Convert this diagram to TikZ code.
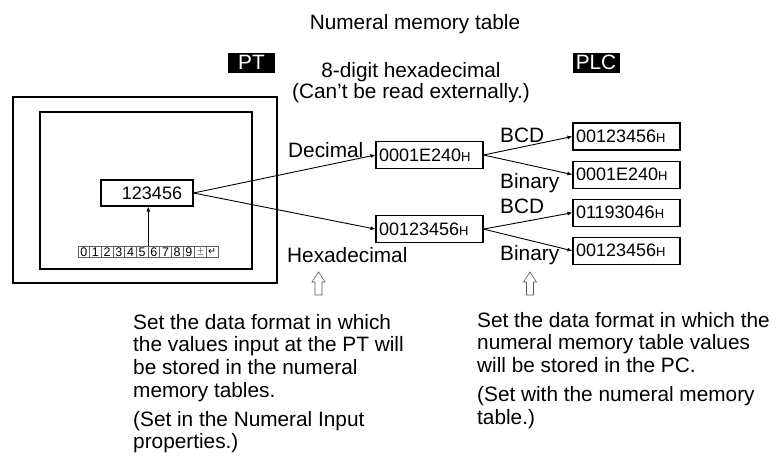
\documentclass[tikz,border=0pt]{standalone}
\usepackage{fontspec}
\setmainfont{Liberation Sans}
\newfontfamily\symfont{DejaVu Sans}
\usetikzlibrary{positioning,arrows.meta}

\newcommand{\hsuf}{{\fontsize{13}{13}\selectfont H}}

\begin{document}
\begin{tikzpicture}[
x=1pt, y=-1pt,
every node/.style={font=\fontsize{20.8}{22.7}\selectfont},
tag/.style={
fill=black,
text=white,
inner sep=0pt,
minimum width=47pt,
minimum height=20pt
},
valbox/.style={
draw,
line width=1.1pt,
inner sep=3pt,
text width=101pt,
align=left,
minimum height=27pt,
font=\fontsize{18}{20}\selectfont
},
numkey/.style={
draw=gray!75!black,
line width=0.6pt,
inner sep=0pt,
minimum width=11.67pt,
minimum height=10.5pt,
font=\fontsize{12.5}{12.5}\selectfont
},
fmt/.style={
anchor=base west,
inner sep=0pt
},
note/.style={
anchor=north west,
align=left,
inner sep=0pt
},
arrow/.style={
-{Latex[length=5pt,width=4pt]},
line width=0.9pt
},
hollowup/.style={
draw=gray!70!black,
line width=0.6pt,
fill=white
}
]

\useasboundingbox (0,0) rectangle (780,466);

% Title and headings

\node (title) [anchor=base] at (415,29) {Numeral memory table};

\node (pt) [tag] at (251.5,62.5) {PT};
\node (plc) [tag] at (596,62.5) {PLC};

\node (internal) [anchor=north, align=center, inner sep=0pt] at (411,62)
{8-digit hexadecimal\\[-1pt](Can’t be read externally.)};


% PT screen

\node (ptframe) [draw, line width=1.2pt, minimum width=264pt, minimum height=186pt, inner sep=0pt] at (145,190) {};
\node (ptscreen) [draw, line width=1.2pt, minimum width=212pt, minimum height=157pt, inner sep=0pt] at (146,190.5) {};

\node (numbox) [draw, line width=1.1pt, minimum width=92pt, minimum height=26pt, inner sep=0pt,
font=\fontsize{18}{20}\selectfont] at (147,193) {\hspace{10pt}123456};

\foreach \k in {0,...,9}
  \node (key\k) [numkey] at ({83.8+\k*11.67},252) {\k};
\node (key10) [numkey, text=gray] at ({83.8+10*11.67},252) {±};
\node (key11) [numkey] at ({83.8+11*11.67},252) {\symfont\fontsize{9.5}{9.5}\selectfont ↵};

\draw[arrow] (key5.north east) -- (key5.north east |- numbox.south);


% Numeral memory table

\node (dec) [valbox] at (429.5,155) {0001E240\hsuf};
\node (hex) [valbox, below=46pt of dec] {00123456\hsuf};

\node (decimal) [fmt] at (288,157) {Decimal};
\node (hexa) [fmt] at (287,262) {Hexadecimal};

\draw[arrow] (numbox.east) -- (dec.west);
\draw[arrow] (numbox.east) -- (hex.west);


% PLC side

\node (bcdA) [valbox] at (626.5,136.5) {00123456\hsuf};
\node (binA) [valbox, below=10pt of bcdA] {0001E240\hsuf};
\node (bcdB) [valbox, below=10pt of binA] {01193046\hsuf};
\node (binB) [valbox, below=10pt of bcdB] {00123456\hsuf};

\node (bcd1) [fmt] at (500,142) {BCD};
\node (bin1) [fmt] at (500,188) {Binary};
\node (bcd2) [fmt] at (500,213) {BCD};
\node (bin2) [fmt] at (500,260) {Binary};

\draw[arrow] (dec.east) -- (bcdA.west);
\draw[arrow] (dec.east) -- (binA.west);
\draw[arrow] (hex.east) -- (bcdB.west);
\draw[arrow] (hex.east) -- (binB.west);


% Notes

\coordinate (ptmark) at (318.5,295);
\coordinate (plcmark) at (530,295);

\draw[hollowup] (ptmark) ++(-3.5,0) -- ++(0,-13) -- ++(-3,0) -- ++(6.5,-10)
  -- ++(6.5,10) -- ++(-3,0) -- ++(0,13) -- cycle;
\draw[hollowup] (plcmark) ++(-3.5,0) -- ++(0,-13) -- ++(-3,0) -- ++(6.5,-10)
  -- ++(6.5,10) -- ++(-3,0) -- ++(0,13) -- cycle;

\node (ptnote) [note] at (133,314)
{Set the data format in which\\
the values input at the PT will\\
be stored in the numeral\\
memory tables.\\[6pt]
(Set in the Numeral Input\\
properties.)};

\node (plcnote) [note] at (477,312)
{Set the data format in which the\\
numeral memory table values\\
will be stored in the PC.\\[6pt]
(Set with the numeral memory\\
table.)};

\end{tikzpicture}
\end{document}
